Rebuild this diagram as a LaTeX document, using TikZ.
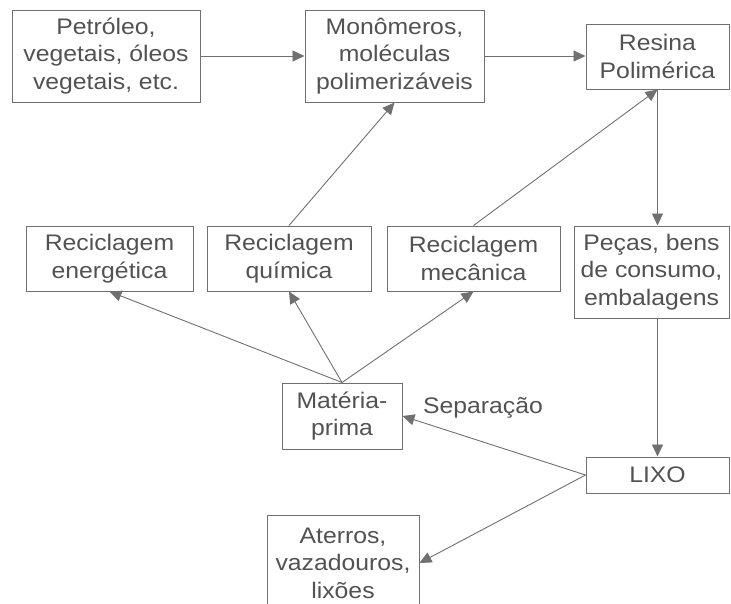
\documentclass[tikz,border=0pt]{standalone}
\usepackage{fontspec}
\setmainfont[FakeStretch=1.1]{Liberation Sans}
\usetikzlibrary{arrows.meta}
\definecolor{txt}{HTML}{525252}
\definecolor{ln}{HTML}{707070}
\tikzset{
  box/.style={draw=ln, line width=1pt, fill=white, text=txt, inner sep=0pt,
    align=center, font=\fontsize{22.5}{27.5}\selectfont},
  conn/.style={draw=ln, line width=0.9pt, -{Triangle[length=12pt,width=11pt]}}
}
\begin{document}
\begin{tikzpicture}[x=1pt,y=-1pt]
\useasboundingbox (0,0) rectangle (731,603);
\node[box, minimum width=188pt, minimum height=92pt] (pet) at (106,56) {Petróleo,\\vegetais, óleos\\vegetais, etc.};
\node[box, minimum width=179pt, minimum height=92pt] (mon) at (394.5,56) {Monômeros,\\moléculas\\polimerizáveis};
\node[box, minimum width=143pt, minimum height=65pt] (res) at (657.5,56.5) {Resina\\Polimérica};
\node[box, minimum width=167pt, minimum height=65pt] (ene) at (109.5,258.5) {Reciclagem\\energética};
\node[box, minimum width=164pt, minimum height=65pt] (qui) at (289,258.5) {Reciclagem\\química};
\node[box, minimum width=173pt, minimum height=65pt] (mec) at (473.5,258.5) {Reciclagem\\mecânica};
\node[box, minimum width=155pt, minimum height=92pt] (pec) at (651.5,272) {Peças, bens\\de consumo,\\embalagens};
\node[box, minimum width=120pt, minimum height=66pt] (mat) at (342,416) {Matéria-\\prima};
\node[box, minimum width=143pt, minimum height=36pt] (lixo) at (657.5,475) {LIXO};
\node[box, minimum width=152pt, minimum height=96pt] (ate) at (343,563) {Aterros,\\vazadouros,\\lixões};
\node[text=txt, font=\fontsize{22.5}{27.5}\selectfont, inner sep=0pt] (sep) at (483,408) {Separação};
\coordinate (pectop) at (res.south |- pec.north);
\coordinate (pecbot) at (res.south |- pec.south);
\draw[conn] (pet.east) -- (mon.west);
\draw[conn] (mon.east) -- (mon.east -| res.west);
\draw[conn] (res.south) -- (pectop);
\draw[conn] (qui.north) -- (mon.south);
\draw[conn] (mec.north) -- (res.south);
\draw[conn] (mat.north) -- (ene.south);
\draw[conn] (mat.north) -- (qui.south);
\draw[conn] (mat.north) -- (mec.south);
\draw[conn] (pecbot) -- (pecbot |- lixo.north);
\draw[conn] (lixo.west) -- (mat.east);
\draw[conn] (lixo.west) -- (ate.east);
\end{tikzpicture}
\end{document}
